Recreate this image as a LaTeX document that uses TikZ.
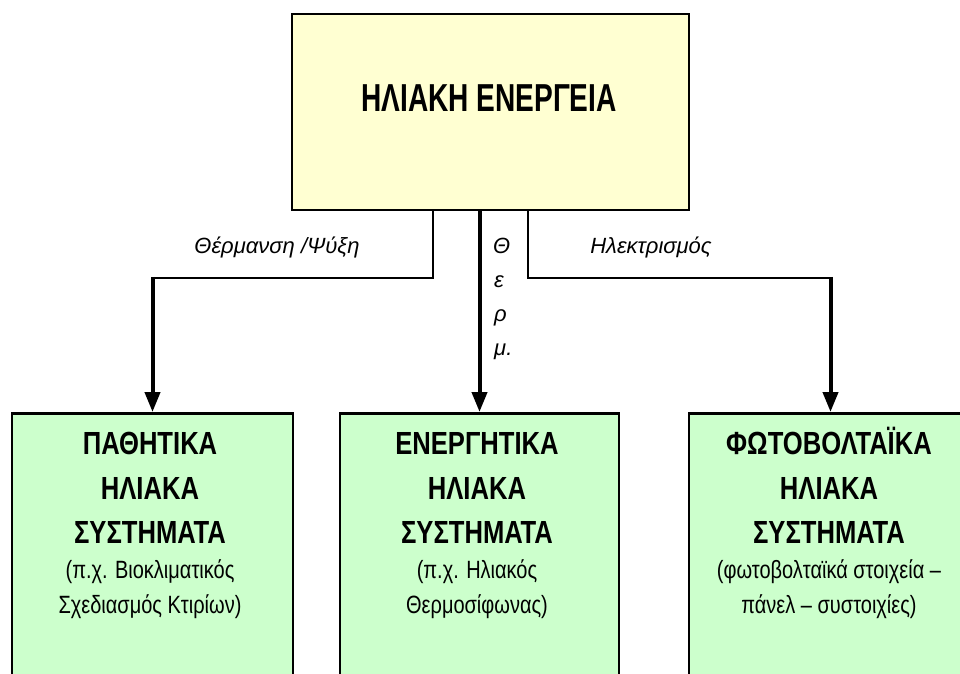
\documentclass[tikz,border=0pt]{standalone}
\usepackage{fontspec}
\setmainfont{Liberation Sans}
\newfontfamily\narrowfont[FakeStretch=0.8]{Liberation Sans}
\newfontfamily\topfont[FakeStretch=0.72]{Liberation Sans}
\usetikzlibrary{arrows.meta}
\definecolor{topfill}{HTML}{FFFFD2}
\definecolor{boxfill}{HTML}{CCFFCC}
\tikzset{
  topbox/.style={draw=black, line width=2.5pt, fill=topfill, rectangle, inner sep=0pt},
  greenbox/.style={draw=black, line width=2.5pt, fill=boxfill, rectangle, inner sep=0pt, anchor=north},
  titletext/.style={anchor=base, inner sep=0pt, font=\narrowfont\bfseries\fontsize{32}{36}\selectfont},
  subtext/.style={anchor=base, inner sep=0pt, font=\narrowfont\fontsize{25}{28}\selectfont},
  labeltext/.style={anchor=base, inner sep=0pt, font=\itshape\fontsize{22}{24}\selectfont},
  thinline/.style={line width=2.5pt},
  arrowline/.style={line width=4pt, -{Triangle[length=20pt,width=15pt]}}
}
\newcommand{\boxlines}[7]{%
  \node[titletext] (#1t1) at (#2,454) {#3};
  \node[titletext] (#1t2) at (#2,499) {#4};
  \node[titletext] (#1t3) at (#2,543) {#5};
  \node[subtext] (#1s1) at (#2,578) {#6};
  \node[subtext] (#1s2) at (#2,613) {#7};
}
\begin{document}
\begin{tikzpicture}[x=1pt, y=-1pt]
  \clip (0,0) rectangle (960,673);
  \fill[white] (0,0) rectangle (960,673);

  % top box
  \node[topbox, minimum width=397pt, minimum height=196pt] (top) at (490.5,112) {};
  \node[anchor=base, inner sep=0pt, font=\topfont\bfseries\fontsize{39}{40}\selectfont] (toptitle) at (489,111) {ΗΛΙΑΚΗ ΕΝΕΡΓΕΙΑ};

  % bottom boxes
  \node[greenbox, minimum width=281pt, minimum height=300pt] (pas) at (152.5,412) {};
  \node[greenbox, minimum width=279pt, minimum height=300pt] (act) at (479.5,412) {};
  \node[greenbox, minimum width=283pt, minimum height=300pt] (pv) at (830.5,412) {};

  \boxlines{pas}{150}{ΠΑΘΗΤΙΚΑ}{ΗΛΙΑΚΑ}{ΣΥΣΤΗΜΑΤΑ}{(π.χ. Βιοκλιματικός}{Σχεδιασμός Κτιρίων)}
  \boxlines{act}{477}{ΕΝΕΡΓΗΤΙΚΑ}{ΗΛΙΑΚΑ}{ΣΥΣΤΗΜΑΤΑ}{(π.χ. Ηλιακός}{Θερμοσίφωνας)}
  \boxlines{pv}{829}{ΦΩΤΟΒΟΛΤΑΪΚΑ}{ΗΛΙΑΚΑ}{ΣΥΣΤΗΜΑΤΑ}{(φωτοβολταϊκά στοιχεία –}{πάνελ – συστοιχίες)}

  % connector junctions
  \coordinate (lsplit) at (433,278);
  \coordinate (rsplit) at (528,278);
  \coordinate (lbend) at (pas.north |- lsplit);
  \coordinate (rbend) at (pv.north |- rsplit);

  % connectors
  \draw[thinline] (top.south -| lsplit) -- (lsplit) -- (lbend);
  \draw[arrowline] ([yshift=1.25pt]lbend) -- (pas.north);
  \draw[thinline] (top.south -| rsplit) -- (rsplit) -- (rbend);
  \draw[arrowline] ([yshift=1.25pt]rbend) -- (pv.north);
  \draw[arrowline] (top.south -| act.north) -- (act.north);

  % connector labels
  \node[labeltext] (lheat) at (277,253) {Θέρμανση /Ψύξη};
  \node[labeltext] (lelec) at (651,253) {Ηλεκτρισμός};
  \node[labeltext, anchor=base west] (lth1) at (493,253) {Θ};
  \node[labeltext, anchor=base west] (lth2) at (494,287) {ε};
  \node[labeltext, anchor=base west] (lth3) at (494,321) {ρ};
  \node[labeltext, anchor=base west] (lth4) at (494,355) {μ.};
\end{tikzpicture}
\end{document}
